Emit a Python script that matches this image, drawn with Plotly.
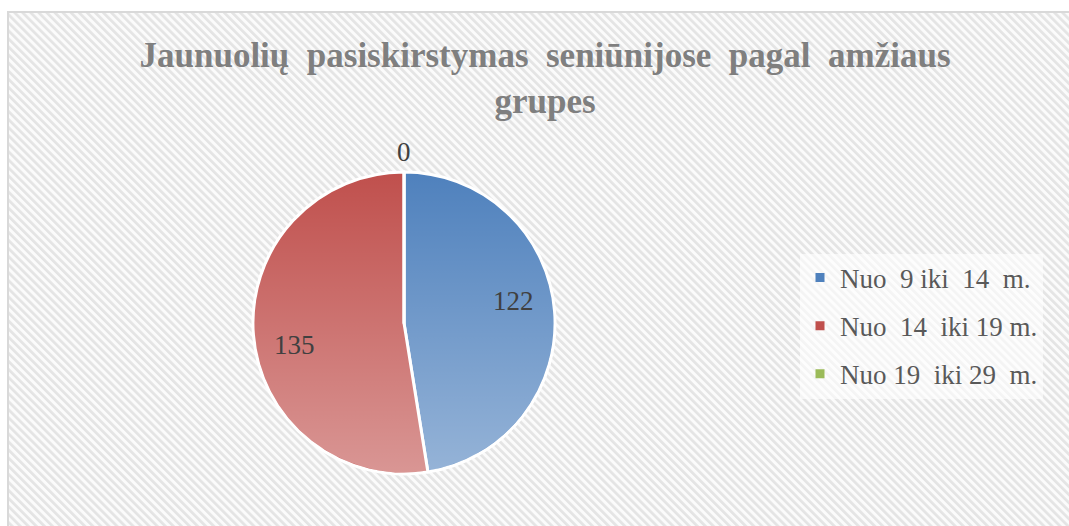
import base64
import math

import plotly.graph_objs as go

# data
labels = ["Nuo\u00a0 9 iki\u00a0 14\u00a0 m.", "Nuo\u00a0 14\u00a0 iki 19 m.", "Nuo 19\u00a0 iki 29\u00a0 m."]
values = [122, 135, 0]
colors = ["#4F81BD", "#C0504D", "#9BBB59"]
title_text = "Jaunuolių\u00a0 pasiskirstymas\u00a0 seniūnijose\u00a0 pagal\u00a0 amžiaus<br>grupes"

W, H = 1069, 526
# pie centre / radius in px
cx, cy, R = 404, 323, 151


def svg_uri(svg):
    return "data:image/svg+xml;base64," + base64.b64encode(svg.encode("utf-8")).decode("ascii")


# hatched chart area background with a light border
bg_svg = (
    f'<svg xmlns="http://www.w3.org/2000/svg" width="{W}" height="{H}">'
    '<defs><pattern id="p" width="5.7" height="5.7" patternUnits="userSpaceOnUse" patternTransform="rotate(-45)">'
    '<rect width="5.7" height="5.7" fill="#fbfbfb"/><rect width="2.7" height="5.7" fill="#e4e4e4"/></pattern></defs>'
    f'<rect x="8" y="12" width="{W}" height="{H}" fill="url(#p)" stroke="#d9d9d9" stroke-width="2"/></svg>'
)

# vertical white gradient laid over the pie (Excel-style shading)
grad_svg = (
    f'<svg xmlns="http://www.w3.org/2000/svg" width="{2 * R}" height="{2 * R}">'
    '<defs><linearGradient id="g" x1="0" y1="0" x2="0" y2="1">'
    '<stop offset="0" stop-color="#ffffff" stop-opacity="0"/>'
    '<stop offset="1" stop-color="#ffffff" stop-opacity="0.4"/></linearGradient></defs>'
    f'<circle cx="{R}" cy="{R}" r="{R - 1.5}" fill="url(#g)"/></svg>'
)

pie = go.Pie(labels=labels, values=values, sort=False, direction="clockwise",
             marker=dict(colors=colors, line=dict(color="white", width=3)),
             textinfo="none", hoverinfo="label+value", showlegend=False,
             domain=dict(x=[(cx - R) / W, (cx + R) / W], y=[(H - cy - R) / H, (H - cy + R) / H]))

# legend entries
legend_traces = [go.Scatter(x=[None], y=[None], mode="markers", name=lab, legendgroup=lab,
                            marker=dict(symbol="square", size=9, color=col))
                 for lab, col in zip(labels, colors)]

fig = go.Figure(data=[pie] + legend_traces)

# data labels: inside near the slice bisector, zero slices just outside the rim
total = sum(values)
annotations = []
cum = 0
for v in values:
    mid = (cum + v / 2) / total * 2 * math.pi
    cum += v
    if v > 0:
        mid -= math.radians(7)
        rf = 0.74
    else:
        rf = 1.13
    px = cx + rf * R * math.sin(mid)
    py = cy - rf * R * math.cos(mid)
    annotations.append(dict(x=px / W, y=1 - py / H, xref="paper", yref="paper", text=str(v),
                            xanchor="center", yanchor="middle", showarrow=False,
                            font=dict(family="Liberation Serif", size=27, color="#404040")))

fig.update_layout(
    width=W, height=H, margin=dict(l=0, r=0, t=0, b=0),
    paper_bgcolor="white", plot_bgcolor="rgba(0,0,0,0)",
    title=dict(text=title_text, x=545 / W, xanchor="center", y=1 - 67 / H, yanchor="top",
               font=dict(family="Liberation Serif", size=35, color="#7f7f7f", weight="bold")),
    xaxis=dict(visible=False), yaxis=dict(visible=False),
    legend=dict(x=800 / W, xanchor="left", y=1 - 326 / H, yanchor="middle", tracegroupgap=10,
                bgcolor="rgba(255,255,255,0.6)", font=dict(family="Liberation Serif", size=27, color="#595959")),
    images=[
        dict(source=svg_uri(bg_svg), xref="paper", yref="paper", x=0, y=1, sizex=1, sizey=1,
             sizing="stretch", layer="below"),
        dict(source=svg_uri(grad_svg), xref="paper", yref="paper", x=(cx - R) / W, y=1 - (cy - R) / H,
             sizex=2 * R / W, sizey=2 * R / H, sizing="stretch", layer="above"),
    ],
    annotations=annotations,
)

fig.write_html("out.html", config={"displayModeBar": False},
               post_script="document.body.style.margin='0';")
